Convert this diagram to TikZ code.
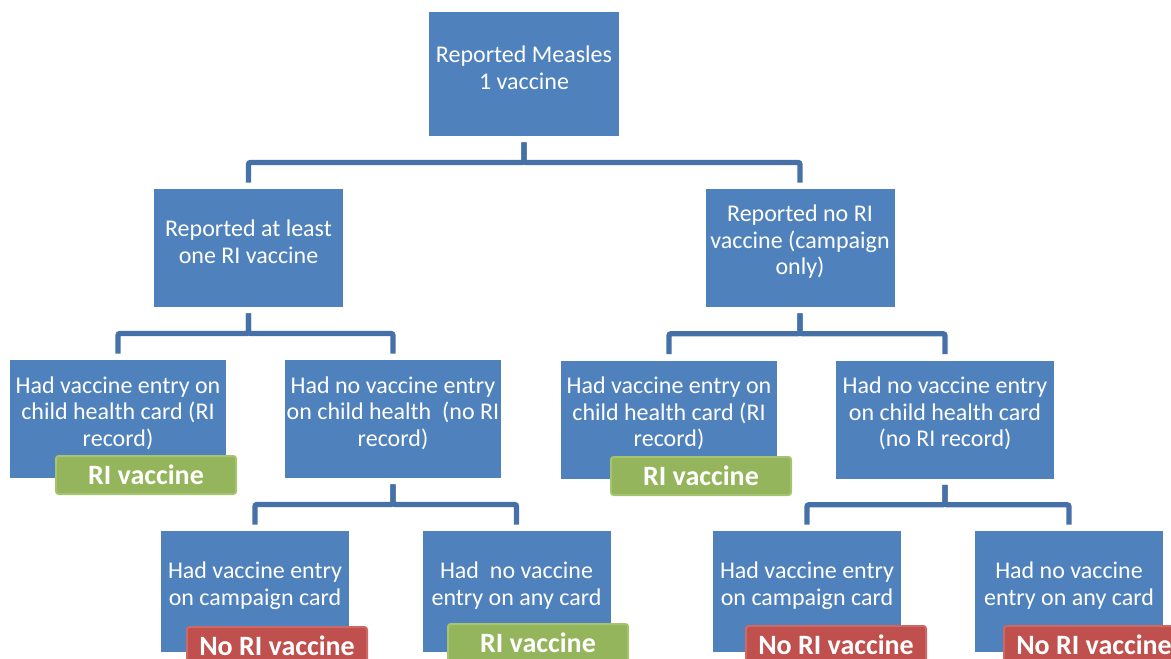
\documentclass[tikz,border=0pt]{standalone}
\usepackage{fontspec}
\setmainfont{Carlito}
\usetikzlibrary{positioning, calc, shapes}

\definecolor{boxblue}{HTML}{4F81BD}
\definecolor{linkblue}{HTML}{4671A8}
\definecolor{taggreen}{HTML}{94B55B}
\definecolor{tagrim}{HTML}{A6C46F}
\definecolor{tagred}{HTML}{C0504D}
\definecolor{redrim}{HTML}{CD6864}

\tikzset{
  box/.style={rectangle, fill=boxblue, inner sep=0pt},
  boxtext/.style={align=center, text=white, yshift=4.5pt,
    font=\fontsize{18pt}{19.9pt}\selectfont},
  link/.style={draw=linkblue, line width=4pt, rounded corners=1.5pt,
    shorten <=4.5pt, shorten >=4.5pt},
  tag/.style={rectangle, rounded corners=2pt, line width=1.5pt,
    minimum width=135pt, minimum height=28.5pt, inner sep=0pt,
    text=white, font=\fontsize{21pt}{22pt}\selectfont\bfseries},
  okTag/.style={tag, fill=taggreen, draw=tagrim},
  noTag/.style={tag, fill=tagred, draw=redrim}
}

\begin{document}
\begin{tikzpicture}[x=0.75pt,y=-0.75pt]
\useasboundingbox (0,0) rectangle (1171,659);

% top of the tree
\node[box, minimum width=142.5pt, minimum height=93pt,
  label={[boxtext]center:Reported Measles\\1 vaccine}] (top) at (524,74) {};

% what was reported
\node[box, minimum width=141.75pt, minimum height=88.5pt,
  label={[boxtext]center:Reported at least\\one RI vaccine}] (atleast) at (248.5,248) {};
\node[box, minimum width=141.75pt, minimum height=88.5pt,
  label={[boxtext]center:Reported no RI\\vaccine (campaign\\only)}] (noRI) at (800,248) {};

% child health card
\node[box, minimum width=162pt, minimum height=88.5pt,
  label={[boxtext]center:Had vaccine entry on\\child health card (RI\\record)}] (cardA) at (118,419) {};
\node[box, minimum width=162pt, minimum height=88.5pt,
  label={[boxtext]center:Had no vaccine entry\\on child health~ (no RI\\record)}] (cardB) at (393,419) {};
\node[box, minimum width=162pt, minimum height=88.5pt,
  label={[boxtext]center:Had vaccine entry on\\child health card (RI\\record)}] (cardC) at (669,419.5) {};
\node[box, minimum width=163.5pt, minimum height=88.5pt,
  label={[boxtext]center:Had no vaccine entry\\on child health card\\(no RI record)}] (cardD) at (945,419.5) {};

% campaign card
\node[box, minimum width=141pt, minimum height=90.75pt,
  label={[boxtext]center:Had vaccine entry\\on campaign card}] (campA) at (255,591.5) {};
\node[box, minimum width=141pt, minimum height=90.75pt,
  label={[boxtext]center:Had~ no vaccine\\entry on any card}] (anyA) at (516.5,591.5) {};
\node[box, minimum width=141pt, minimum height=90.75pt,
  label={[boxtext]center:Had vaccine entry\\on campaign card}] (campB) at (807,591.5) {};
\node[box, minimum width=141pt, minimum height=90.75pt,
  label={[boxtext]center:Had no vaccine\\entry on any card}] (anyB) at (1069,591.5) {};

\foreach \p/\c in {top/atleast, top/noRI, atleast/cardA, atleast/cardB,
  noRI/cardC, noRI/cardD, cardB/campA, cardB/anyA, cardD/campB, cardD/anyB}
  \draw[link] (\p.south) |- ($(\p.south)!0.5!(\c.north)$) -| (\c.north);

% outcome tags
\node[okTag] (okA) at (146,475) {RI vaccine};
\node[okTag] (okC) at (701,476) {RI vaccine};
\node[okTag] (okF) at (538,643) {RI vaccine};
\node[noTag] (noE) at (277,646) {No RI vaccine};
\node[noTag] (noG) at (836,645) {No RI vaccine};
\node[noTag] (noH) at (1094,645) {No RI vaccine};
\end{tikzpicture}
\end{document}
